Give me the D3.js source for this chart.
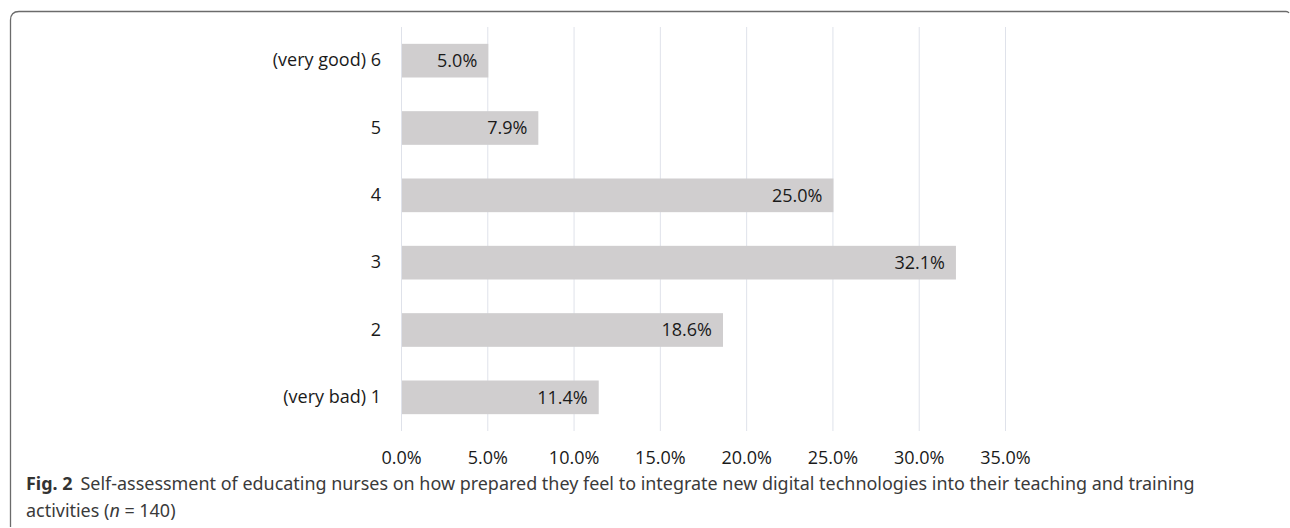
<!DOCTYPE html>
<html>
<head>
  <meta charset="utf-8">
  <title>Fig. 2</title>
  <script src="https://d3js.org/d3.v7.min.js"></script>
  <style>
    body { margin: 0; background: #fff; }
    svg { display: block; }
    .tick-label, .cat-label, .val-label { font-family: "Open Sans", "Noto Sans", sans-serif; font-size: 18px; fill: #1a1a1a; }
    .caption { font-family: "Noto Sans", "Open Sans", sans-serif; font-size: 17.95px; fill: #3a3a3a; }
  </style>
</head>
<body>
<div id="chart"></div>
<script>
  // chart data
  var categories = ["(very good) 6", "5", "4", "3", "2", "(very bad) 1"];
  var percents = [5.0, 7.9, 25.0, 32.1, 18.6, 11.4];
  var tickValues = [0, 5, 10, 15, 20, 25, 30, 35];

  var W = 1290, H = 528;
  var svg = d3.select("#chart").append("svg")
    .attr("width", W)
    .attr("height", H);

  // frame round the figure
  svg.append("path")
    .attr("d", "M10.5,527 L10.5,20 Q10.5,11.5 19,11.5 L1286,11.5 Q1288,11.5 1289,13")
    .attr("fill", "none")
    .attr("stroke", "#6b6b6b")
    .attr("stroke-width", 1.3);

  var plotLeft = 401, plotRight = 1005, plotTop = 27, plotBottom = 431;

  var x = d3.scaleLinear().domain([0, 35]).range([plotLeft, plotRight]);
  var y = d3.scaleBand().domain(categories).range([plotTop, plotBottom]).paddingInner(0.5).paddingOuter(0.25);

  // gridlines
  svg.append("g").selectAll("line")
    .data(tickValues)
    .enter().append("line")
    .attr("x1", function (d) { return x(d) + 0.5; })
    .attr("x2", function (d) { return x(d) + 0.5; })
    .attr("y1", plotTop)
    .attr("y2", plotBottom)
    .attr("stroke", "#dfe2ea")
    .attr("stroke-width", 1);

  // bars
  svg.append("g").selectAll("rect")
    .data(percents)
    .enter().append("rect")
    .attr("x", x(0) + 1)
    .attr("y", function (d, i) { return y(categories[i]); })
    .attr("width", function (d) { return x(d) - x(0); })
    .attr("height", y.bandwidth())
    .attr("fill", "#d0cecf");

  // value labels
  svg.append("g").selectAll("text")
    .data(percents)
    .enter().append("text")
    .attr("class", "val-label")
    .attr("x", function (d) { return x(d) - 10; })
    .attr("y", function (d, i) { return y(categories[i]) + y.bandwidth() / 2; })
    .attr("dy", "0.35em")
    .attr("text-anchor", "end")
    .text(function (d) { return d.toFixed(1) + "%"; });

  // category labels
  var yAxis = svg.append("g")
    .attr("transform", "translate(" + (plotLeft - 20) + ",0)")
    .call(d3.axisLeft(y).tickSize(0).tickPadding(0));
  yAxis.select(".domain").remove();
  yAxis.selectAll("text").attr("class", "cat-label").attr("font-size", null).attr("font-family", null).attr("fill", null);

  // x axis labels
  var xAxis = svg.append("g")
    .attr("transform", "translate(0," + (plotBottom + 20) + ")")
    .call(d3.axisBottom(x).tickValues(tickValues).tickSize(0).tickPadding(0)
      .tickFormat(function (d) { return d.toFixed(1) + "%"; }));
  xAxis.select(".domain").remove();
  xAxis.selectAll("text").attr("class", "tick-label").attr("font-size", null).attr("font-family", null).attr("fill", null);

  // caption
  var cap = svg.append("text").attr("class", "caption").attr("x", 26).attr("y", 490);
  cap.append("tspan").attr("font-weight", "bold").attr("fill", "#333").text("Fig. 2");
  cap.append("tspan").attr("dx", 8).text("Self-assessment of educating nurses on how prepared they feel to integrate new digital technologies into their teaching and training");
  var cap2 = svg.append("text").attr("class", "caption").attr("x", 26).attr("y", 517);
  cap2.append("tspan").text("activities (");
  cap2.append("tspan").attr("font-style", "italic").text("n");
  cap2.append("tspan").text(" = 140)");
</script>
</body>
</html>
